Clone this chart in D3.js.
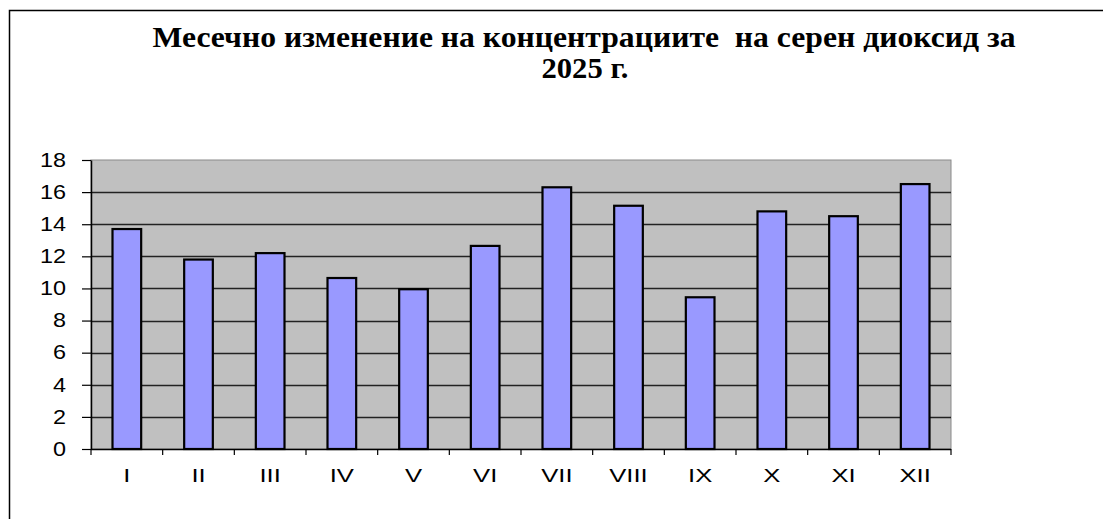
<!DOCTYPE html>
<html>
<head>
<meta charset="utf-8">
<script src="https://cdn.jsdelivr.net/npm/d3@7"></script>
<style>
  html, body { margin: 0; padding: 0; background: #fff; }
  svg { display: block; }
</style>
</head>
<body>
<svg id="chart" width="1104" height="519"></svg>
<script>
const months = ["I", "II", "III", "IV", "V", "VI", "VII", "VIII", "IX", "X", "XI", "XII"];
const so2 = [13.7, 11.8, 12.2, 10.65, 9.95, 12.65, 16.3, 15.15, 9.45, 14.8, 14.5, 16.5];
const yTicks = [0, 2, 4, 6, 8, 10, 12, 14, 16, 18];
const titleLines = ["Месечно изменение на концентрациите  на серен диоксид за", "2025 г."];

const svg = d3.select("#chart");
const plot = { left: 91, right: 951, top: 160, bottom: 449 };

// outer frame (left & top edges visible)
svg.append("path")
  .attr("d", `M9.5,519 L9.5,10.5 L1103,10.5`)
  .attr("fill", "none").attr("stroke", "#000").attr("stroke-width", 1.5);

// title
const title = svg.append("text")
  .attr("text-anchor", "middle")
  .attr("font-family", "'Liberation Serif', 'Times New Roman', serif")
  .attr("font-weight", "bold")
  .attr("font-size", 29)
  .attr("fill", "#000")
  .style("white-space", "pre");
title.append("tspan").attr("x", 584).attr("y", 47)
  .attr("textLength", 863).attr("lengthAdjust", "spacingAndGlyphs").text(titleLines[0]);
title.append("tspan").attr("x", 585).attr("y", 78)
  .attr("textLength", 87).attr("lengthAdjust", "spacingAndGlyphs").text(titleLines[1]);

const x = d3.scaleBand().domain(months).range([plot.left, plot.right])
  .paddingInner(0.6).paddingOuter(0.3);
const y = d3.scaleLinear().domain([0, 18]).range([plot.bottom, plot.top]);

// plot background
svg.append("rect")
  .attr("x", plot.left).attr("y", plot.top)
  .attr("width", plot.right - plot.left).attr("height", plot.bottom - plot.top)
  .attr("fill", "#c0c0c0").attr("stroke", "#8a8a8a").attr("stroke-width", 1);

// gridlines
svg.append("g").selectAll("line")
  .data(yTicks.filter(d => d > 0 && d < 18))
  .join("line")
  .attr("x1", plot.left).attr("x2", plot.right)
  .attr("y1", d => Math.round(y(d)) + 0.5).attr("y2", d => Math.round(y(d)) + 0.5)
  .attr("stroke", "#222").attr("stroke-width", 1.4);

// bars
svg.append("g").selectAll("rect")
  .data(months)
  .join("rect")
  .attr("x", d => x(d))
  .attr("width", x.bandwidth())
  .attr("y", (d, i) => y(so2[i]))
  .attr("height", (d, i) => y(0) - y(so2[i]))
  .attr("fill", "#9999ff")
  .attr("stroke", "#000")
  .attr("stroke-width", 2.2);

const syx = 1.2, sxx = 1.35;

// y axis
const yAxis = svg.append("g")
  .attr("transform", `translate(${plot.left},0)`)
  .call(d3.axisLeft(y).tickValues(yTicks).tickSize(9).tickPadding(16).tickSizeOuter(0));
yAxis.select(".domain").attr("stroke", "#000").attr("stroke-width", 1.5);
yAxis.selectAll(".tick line").attr("stroke", "#000").attr("stroke-width", 1.2);
yAxis.selectAll(".tick text")
  .attr("font-family", "'Liberation Sans', Arial, sans-serif")
  .attr("font-size", 19.5)
  .attr("fill", "#000")
  .each(function() {
    const t = d3.select(this);
    const xx = +t.attr("x");
    t.attr("x", xx / syx).attr("transform", `scale(${syx},1)`);
  });

// x axis (labels at band centres)
const xAxis = svg.append("g")
  .attr("transform", `translate(0,${plot.bottom})`)
  .call(d3.axisBottom(x).tickSize(0).tickPadding(19.5).tickSizeOuter(0));
xAxis.select(".domain").attr("stroke", "#000").attr("stroke-width", 1.5)
  .attr("d", `M${plot.left},0.5H${plot.right}`);
xAxis.selectAll(".tick text")
  .attr("font-family", "'Liberation Sans', Arial, sans-serif")
  .attr("font-size", 19)
  .attr("fill", "#000")
  .attr("transform", `scale(${sxx},1)`);

// category boundary ticks
const bounds = d3.range(months.length + 1).map(i => plot.left + i * x.step());
xAxis.append("g").selectAll("line")
  .data(bounds)
  .join("line")
  .attr("x1", d => d).attr("x2", d => d)
  .attr("y1", 0).attr("y2", 6)
  .attr("stroke", "#000").attr("stroke-width", 1.2);
</script>
</body>
</html>
